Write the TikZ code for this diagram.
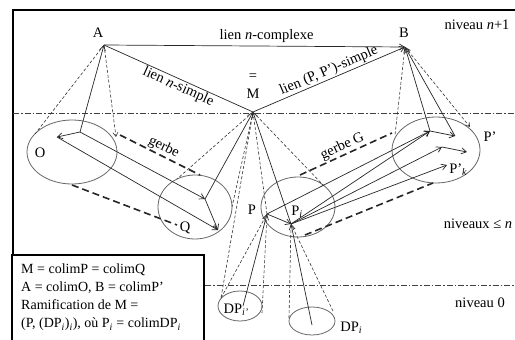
\documentclass[tikz,border=0pt]{standalone}
\usepackage{fontspec}
\setmainfont{Liberation Serif}
\usetikzlibrary{arrows.meta,shapes.geometric}
\begin{document}
\begin{tikzpicture}[x=1pt,y=-1pt,
  lbl/.style={font=\fontsize{14.5}{17}\selectfont, inner sep=1pt},
  ell/.style={draw=black!60, line width=0.8pt, ellipse, inner sep=0pt},
  arr/.style={draw=black!85, line width=0.7pt, -{Straight Barb[length=5pt,width=6pt]}},
  plain/.style={draw=black!85, line width=0.7pt},
  cone/.style={draw=black!80, line width=0.6pt, dash pattern=on 3pt off 2pt},
  gerbeline/.style={draw=black!85, line width=1.6pt, dash pattern=on 7pt off 4pt},
  level/.style={draw=black!75, line width=0.7pt, dash pattern=on 6pt off 2pt on 1.5pt off 2pt},
]
\useasboundingbox (0,0) rectangle (515,340);
% frame
\draw[line width=1.6pt] (13,342) -- (13,10) -- (517,10);
% level lines
\draw[level] (13,113) -- (515,113);
\draw[level] (205,285) -- (515,285);
% ellipses
\node[ell, minimum width=90pt, minimum height=64pt] (Oe) at (72,152) {};
\node[ell, minimum width=74pt, minimum height=64pt] (Qe) at (195,207) {};
\node[ell, minimum width=74pt, minimum height=60pt] (Pe) at (298,207) {};
\node[ell, minimum width=88pt, minimum height=66pt] (Ppe) at (436,150) {};
\node[ell, minimum width=44pt, minimum height=30pt] (DPie) at (240,306) {};
\node[ell, minimum width=46pt, minimum height=28pt] (DPe) at (312,321) {};
% points
\coordinate (A) at (104,45);
\coordinate (B) at (405,47);
\coordinate (M) at (253,112);
\coordinate (o1) at (80,132);
\coordinate (o2) at (57,137);
\coordinate (q1) at (205,199);
\coordinate (q2) at (218,230);
\coordinate (pP) at (267,214);
\coordinate (Pi) at (291,224);
\coordinate (pp1) at (430,131);
\coordinate (pp2) at (455,136);
\coordinate (ppm) at (442,147);
\coordinate (pp3) at (467,152);
\coordinate (ppk) at (447,165);
% ellipse border points
\coordinate (oL) at (35,134);
\coordinate (oR) at (116,137);
\coordinate (qTL) at (177,179);
\coordinate (qR) at (232,207);
\coordinate (pTR) at (324,186);
\coordinate (ppL) at (395,135);
\coordinate (ppTR) at (470,127);
\coordinate (dqL) at (221,298);
\coordinate (dqR) at (262,313);
\coordinate (dqc) at (243,306);
\coordinate (dL) at (289,318);
\coordinate (dR) at (333,311);
\coordinate (dc) at (312,325);
% gerbe ends
\coordinate (g1a) at (120,135);
\coordinate (g1b) at (200,175);
\coordinate (g2a) at (72,185);
\coordinate (g2b) at (177,225);
\coordinate (g3a) at (300,175);
\coordinate (g3b) at (392,133);
\coordinate (g4a) at (305,235);
\coordinate (g4b) at (433,183);
% top links
\draw[arr] (A) -- node[lbl, above=2pt, pos=0.54] (lc) {lien \textit{n}-complexe} (B);
\draw[plain] (A) -- node[lbl, below, sloped, pos=0.52] (ls) {lien \textit{n}-simple} (M);
\draw[arr] (M) -- node[lbl, above, sloped, pos=0.52] (lp) {lien (P, P')-simple} (B);
% cone to A
\draw[arr] (o1) -- (A);
\draw[cone] (A) -- (oL);
\draw[cone, -{Straight Barb[length=4pt,width=5pt]}] (A) -- (oR);
% O and Q
\draw[arr] (o1) -- (o2);
\draw[arr] (o1) -- (q1);
\draw[arr] (o2) -- (q2);
\draw[arr] (q1) -- (q2);
% cone to M
\draw[arr] (q1) -- (M);
\draw[arr] (Pi) -- (M);
\draw[cone] (M) -- (qTL);
\draw[cone] (M) -- (qR);
\draw[cone] (M) -- (pP);
\draw[cone] (M) -- (dqL);
\draw[cone] (M) -- (pTR);
% ramification
\draw[arr] (dqc) -- (pP);
\draw[cone] (dqL) -- (pP);
\draw[cone] (dqR) -- (pP);
\draw[arr] (dc) -- (Pi);
\draw[cone] (dL) -- (Pi);
\draw[cone] (dR) -- (Pi);
\draw[arr] (pP) -- (Pi);
% P to P'
\draw[arr] (pP) -- (pp1);
\draw[arr] (Pi) -- (pp1);
\draw[arr] (pp1) -- (pp2);
\draw[arr] (Pi) -- (ppm);
\draw[arr] (ppm) -- (pp3);
\draw[arr] (Pi) -- (ppk);
% cone to B
\draw[arr] (pp1) -- (B);
\draw[arr] (pp2) -- (B);
\draw[cone] (B) -- (ppL);
\draw[cone, -{Straight Barb[length=4pt,width=5pt]}] (B) -- (ppTR);
% gerbes
\draw[gerbeline] (g1a) -- node[lbl, above, sloped] (gl) {gerbe} (g1b);
\draw[gerbeline] (g2a) -- (g2b);
\draw[gerbeline] (g3a) -- node[lbl, above, sloped] (gG) {gerbe G} (g3b);
\draw[gerbeline] (g4a) -- (g4b);
% labels
\node[lbl] (lA) at (98,33) {A};
\node[lbl] (lB) at (404,33) {B};
\node[lbl] (leq) at (253,77) {=};
\node[lbl] (lM) at (253,94) {M};
\node[lbl] (lO) at (40,153) {O};
\node[lbl] (lQ) at (185,228) {Q};
\node[lbl] (lP) at (252,210) {P};
\node[lbl] (lPi) at (297,212) {P\textsubscript{\textit{i}}};
\node[lbl] (lPp) at (490,137) {P'};
\node[lbl] (lPk) at (458,170) {P'\raisebox{-0.35ex}{\fontsize{10}{10}\selectfont\textit{k}}};
\node[lbl] (lDPi) at (236,310) {DP\raisebox{-0.35ex}{\fontsize{10}{10}\selectfont\textit{i'}}};
\node[lbl] (lDP) at (351,328) {DP\raisebox{-0.35ex}{\fontsize{10}{10}\selectfont\textit{i}}};
\node[lbl] (n1) at (477,25) {niveau \textit{n}+1};
\node[lbl] (n2) at (478,224) {niveaux ≤ \textit{n}};
\node[lbl] (n0) at (480,303) {niveau 0};
% legend box
\draw[line width=1.2pt, fill=white] (12,255) rectangle (204,343);
\node[lbl, anchor=north west, align=left, font=\fontsize{14}{18}\selectfont] (legend) at (20,263)
 {M = colimP = colimQ\\
  A = colimO, B = colimP'\\
  Ramification de M =\\
  (P, (DP\textsubscript{\textit{i}})\textsubscript{\textit{i}}), où P\textsubscript{\textit{i}} = colimDP\textsubscript{\textit{i}}};
\end{tikzpicture}
\end{document}
